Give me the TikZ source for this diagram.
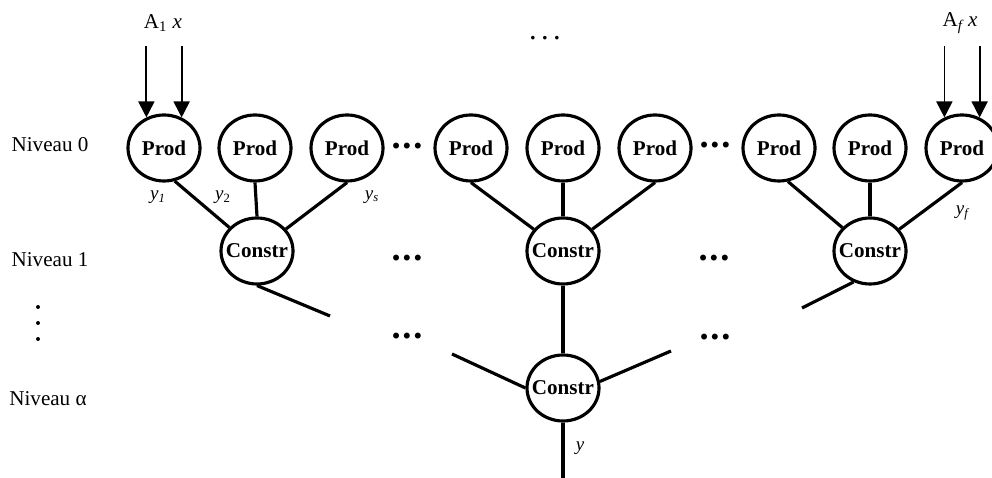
\documentclass[tikz,border=0pt]{standalone}
\usepackage{fontspec}
\setmainfont{Liberation Serif}[Scale=1.2]
\usepackage{tikz}
\usetikzlibrary{shapes.geometric, arrows.meta}
\newcommand{\spreaddots}[1]{.\kern#1.\kern#1.}

\begin{document}
\begin{tikzpicture}[
    unit/.style={ellipse, draw, line width=1.8pt, minimum width=1.44cm, minimum height=1.32cm, inner sep=0pt, font=\bfseries},
    link/.style={line width=1.8pt},
    arrow/.style={-{Triangle[length=0.32cm, width=0.32cm]}, line width=1pt},
    more/.style={font=\LARGE\bfseries},
    ylabel/.style={font=\small}
]
\useasboundingbox (0,0) rectangle (19.84,9.56);
% levels
\node (n0) at (1.00,6.66) {Niveau 0};
\node (n1) at (1.00,4.36) {Niveau 1};
\node (na) at (0.96,1.58) {Niveau α};
\foreach \y in {3.42,3.10,2.78}
  \fill (0.76,\y) circle (0.04);
% producers and constructors
\foreach \x [count=\i] in {3.28,5.10,6.94,9.42,11.26,13.10,15.58,17.40,19.24}
  \node[unit] (p\i) at (\x,6.6) {Prod};
\node[unit] (c1) at (5.14,4.54) {\makebox[0pt]{Constr}};
\node[unit] (c2) at (11.26,4.54) {\makebox[0pt]{Constr}};
\node[unit] (c3) at (17.40,4.54) {\makebox[0pt]{Constr}};
\node[unit] (c4) at (11.26,1.80) {\makebox[0pt]{Constr}};
% inputs
\node (a1) at (3.26,9.10) {A\textsubscript{1} \textit{x}};
\node (af) at (19.20,9.10) {A\textsubscript{\textit{f}}\,\textit{x}};
\node[font=\Large] (top) at (10.90,8.80) {\spreaddots{2.5pt}};
\draw[arrow] ([yshift=1.42cm]p1.120) -- (p1.120);
\draw[arrow] ([yshift=1.42cm]p1.60) -- (p1.60);
\draw[arrow] ([yshift=1.42cm]p9.120) -- (p9.120);
\draw[arrow] ([yshift=1.42cm]p9.60) -- (p9.60);
% links
\draw[link] (p1.-72) -- (c1);
\draw[link] (p2.south) -- (c1.north);
\draw[link] (p3.south) -- (c1);
\draw[link] (p4.south) -- (c2);
\draw[link] (p5.south) -- (c2.north);
\draw[link] (p6.south) -- (c2);
\draw[link] (p7.-75) -- (c3);
\draw[link] (p8.south) -- (c3.north);
\draw[link] (p9.south) -- (c3);
\draw[link] (c2) -- (c4);
\coordinate (e1) at (6.60,3.24);
\coordinate (e3) at (16.04,3.40);
\coordinate (e4l) at (9.04,2.48);
\coordinate (e4r) at (13.42,2.54);
\coordinate (e4b) at (11.26,0);
\draw[link] (c1.south) -- (e1);
\draw[link] (c3.-118) -- (e3);
\draw[link] (e4l) -- (c4.west);
\draw[link] (c4.10) -- (e4r);
\draw[link] (c4.south) -- (e4b);
% outputs
\node[ylabel] (y1) at (3.16,5.62) {\textit{y}\textsubscript{\textit{1}}};
\node[ylabel] (y2) at (4.46,5.62) {\textit{y}\textsubscript{2}};
\node[ylabel] (ys) at (7.44,5.62) {\textit{y}\textsubscript{\textit{s}}};
\node[ylabel] (yf) at (19.26,5.30) {\textit{y}\textsubscript{\textit{f}}};
\node[ylabel] (y) at (11.60,0.60) {\textit{y}};
% dots
\node[more] (d0a) at (8.14,6.64) {\spreaddots{1pt}};
\node[more] (d0b) at (14.30,6.66) {\spreaddots{1pt}};
\node[more] (d1a) at (8.14,4.40) {\spreaddots{1pt}};
\node[more] (d1b) at (14.28,4.40) {\spreaddots{1pt}};
\node[more] (d2a) at (8.14,2.84) {\spreaddots{1pt}};
\node[more] (d2b) at (14.30,2.82) {\spreaddots{1pt}};
\end{tikzpicture}
\end{document}
